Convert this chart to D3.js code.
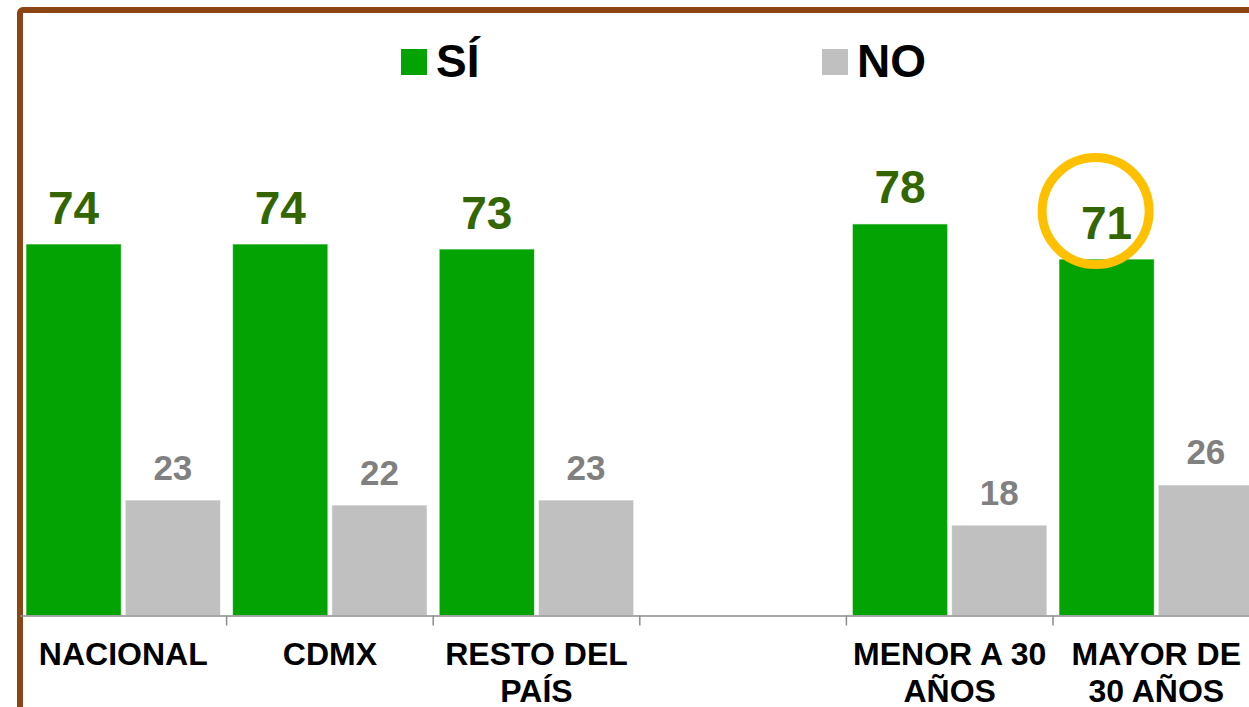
<html>
<head>
  <meta charset="utf-8">
  <script src="https://d3js.org/d3.v7.min.js"></script>
  <style>
    body { margin: 0; background: #fff; }
  </style>
</head>
<body>
<script>

// chart data
let categories = ["NACIONAL", "CDMX", "RESTO DEL PAÍS", "", "MENOR A 30 AÑOS", "MAYOR DE 30 AÑOS"];
let seriesNames = ["SÍ", "NO"];
let siValues = [74, 74, 73, null, 78, 71];
let noValues = [23, 22, 23, null, 18, 26];
let highlightCategory = "MAYOR DE 30 AÑOS";

let canvasW = 1249;
let canvasH = 707;
let baseY = 615.5;
let font = "Arial, 'Liberation Sans', sans-serif";

let colors = { "SÍ": "#04A304", "NO": "#C0C0C0" };
let labelColors = { "SÍ": "#336600", "NO": "#808080" };
let labelSizes = { "SÍ": 46, "NO": 35 };

let svg = d3.select("body").append("svg")
  .attr("width", canvasW)
  .attr("height", canvasH);

// brown frame
svg.append("rect")
  .attr("x", 20)
  .attr("y", 10)
  .attr("width", 1300)
  .attr("height", 800)
  .attr("rx", 3)
  .attr("fill", "none")
  .attr("stroke", "#8B4513")
  .attr("stroke-width", 6);

let slots = categories.map((c, i) => c === "" ? "_gap" + i : c);

let x = d3.scaleBand()
  .domain(slots)
  .range([20, 20 + 6 * 206.6])
  .padding(0);

let xSub = d3.scaleBand()
  .domain(seriesNames)
  .range([6, 200.5])
  .paddingInner(0.04)
  .paddingOuter(0);

let y = d3.scaleLinear()
  .domain([0, 100])
  .range([baseY, baseY - 502]);

let rows = [];
categories.forEach((c, i) => {
  if (siValues[i] != null) rows.push({ cat: slots[i], name: "SÍ", value: siValues[i] });
  if (noValues[i] != null) rows.push({ cat: slots[i], name: "NO", value: noValues[i] });
});

// bars
svg.selectAll(".bar")
  .data(rows)
  .enter()
  .append("rect")
  .attr("class", "bar")
  .attr("x", d => x(d.cat) + xSub(d.name))
  .attr("y", d => y(d.value))
  .attr("width", xSub.bandwidth())
  .attr("height", d => y(0) - y(d.value))
  .attr("fill", d => colors[d.name])
  .attr("stroke", "rgba(255,255,255,0.6)")
  .attr("stroke-width", 1);

// value labels
svg.selectAll(".val")
  .data(rows)
  .enter()
  .append("text")
  .attr("class", "val")
  .attr("x", d => x(d.cat) + xSub(d.name) + xSub.bandwidth() / 2)
  .attr("y", d => y(d.value) - 20.5)
  .attr("text-anchor", "middle")
  .attr("font-family", font)
  .attr("font-weight", "bold")
  .attr("font-size", d => labelSizes[d.name] + "px")
  .attr("fill", d => labelColors[d.name])
  .text(d => d.value);

// highlight ring
let hi = rows.find(d => d.cat === highlightCategory && d.name === "SÍ");
svg.append("circle")
  .attr("cx", x(hi.cat) + xSub(hi.name) + xSub.bandwidth() / 2 - 11)
  .attr("cy", y(hi.value) - 48)
  .attr("r", 53.5)
  .attr("fill", "none")
  .attr("stroke", "#FFC000")
  .attr("stroke-width", 9);

// axis line and ticks at slot boundaries
svg.append("line")
  .attr("x1", 20)
  .attr("x2", canvasW)
  .attr("y1", baseY + 0.5)
  .attr("y2", baseY + 0.5)
  .attr("stroke", "#8C8C8C")
  .attr("stroke-width", 1.5);

svg.selectAll(".tick")
  .data(slots.slice(1))
  .enter()
  .append("line")
  .attr("class", "tick")
  .attr("x1", d => x(d))
  .attr("x2", d => x(d))
  .attr("y1", baseY)
  .attr("y2", baseY + 10)
  .attr("stroke", "#8C8C8C")
  .attr("stroke-width", 1.5);

// category labels (wrapped to slot width)
let catText = svg.selectAll(".cat")
  .data(slots)
  .enter()
  .append("text")
  .attr("class", "cat")
  .attr("x", d => x(d) + x.bandwidth() / 2)
  .attr("y", 665)
  .attr("text-anchor", "middle")
  .attr("font-family", font)
  .attr("font-weight", "bold")
  .attr("font-size", "32px")
  .attr("fill", "#000")
  .text(d => d.startsWith("_gap") ? "" : d);

catText.each(function(d) {
  let t = d3.select(this);
  let words = t.text().split(" ");
  if (words.length < 2) return;
  t.text(null);
  let cx = t.attr("x");
  let line = [];
  let tspan = t.append("tspan").attr("x", cx).attr("dy", 0);
  words.forEach(w => {
    line.push(w);
    tspan.text(line.join(" "));
    if (tspan.node().getComputedTextLength() > x.bandwidth() - 4 && line.length > 1) {
      line.pop();
      tspan.text(line.join(" "));
      line = [w];
      tspan = t.append("tspan").attr("x", cx).attr("dy", 37).text(w);
    }
  });
});

// legend
let legendX = { "SÍ": 401, "NO": 822 };
let legend = svg.selectAll(".legend")
  .data(seriesNames)
  .enter()
  .append("g")
  .attr("class", "legend");

legend.append("rect")
  .attr("x", d => legendX[d])
  .attr("y", 49)
  .attr("width", 26)
  .attr("height", 26)
  .attr("fill", d => colors[d]);

legend.append("text")
  .attr("x", d => legendX[d] + 35)
  .attr("y", 76.5)
  .attr("font-family", font)
  .attr("font-weight", "bold")
  .attr("font-size", "46px")
  .attr("fill", "#000")
  .text(d => d);

</script>
</body>
</html>
